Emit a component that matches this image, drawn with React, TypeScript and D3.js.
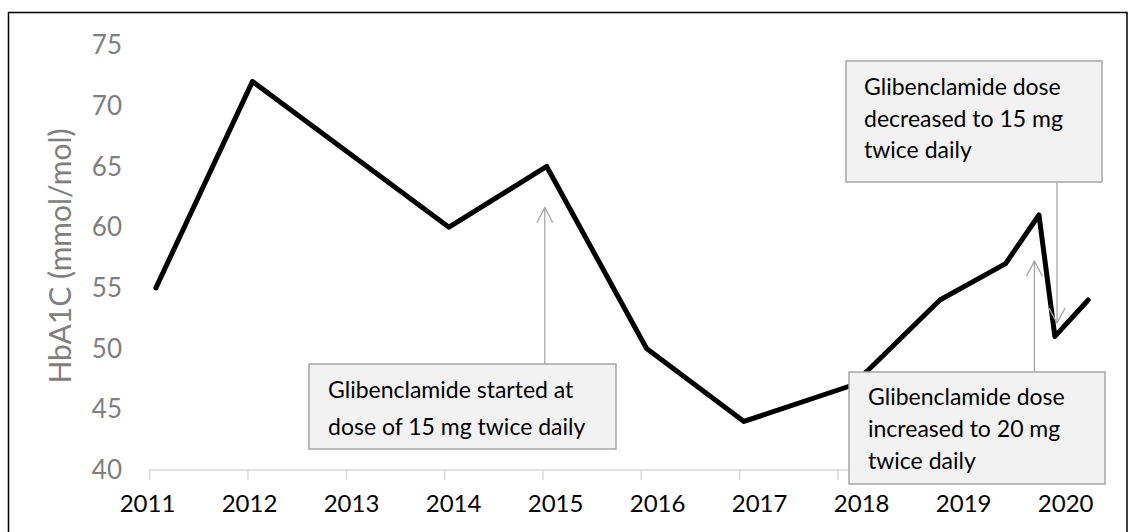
import React from "react";
import * as d3 from "d3";

// ---- data ----
const visitDates = [
  "2011-01-24", "2012-01-18", "2014-01-17", "2015-01-15", "2016-01-21", "2017-01-17",
  "2018-02-26", "2019-01-15", "2019-09-16", "2020-01-18", "2020-03-17", "2020-07-19",
];
const hba1cValues = [55, 72, 60, 65, 50, 44, 47, 54, 57, 61, 51, 54];
const yTickValues = [40, 45, 50, 55, 60, 65, 70, 75];
const yearLabels = ["2011", "2012", "2013", "2014", "2015", "2016", "2017", "2018", "2019", "2020"];
const yAxisTitle = "HbA1C (mmol/mol)";

const noteTexts = [
  ["Glibenclamide started at", "dose of 15 mg twice daily"],
  ["Glibenclamide dose", "decreased to 15 mg", "twice daily"],
  ["Glibenclamide dose", "increased to 20 mg", "twice daily"],
];
const noteArrowDates = ["2015-01-08", "2020-03-25", "2020-01-01"];
const noteArrowValues = [61.6, 52.1, 57.2];

// ---- layout ----
const W = 1134;
const H = 532;
const FONT = "Lato, Carlito, 'Open Sans', sans-serif";

const parse = d3.timeParse("%Y-%m-%d");

export default function App() {
  const x = d3
    .scaleTime()
    .domain([new Date(2011, 0, 1), new Date(2020, 0, 1)])
    .range([149.7, 1034.4]);
  const y = d3.scaleLinear().domain([40, 75]).range([470, 45]);
  const labelX = d3.scaleLinear().domain([0, 9]).range([147.5, 1065.7]);

  const pts = visitDates.map((d, i) => ({ date: parse(d) as Date, v: hba1cValues[i] }));
  const line = d3
    .line<{ date: Date; v: number }>()
    .x((d) => x(d.date))
    .y((d) => y(d.v));

  const axisStart = x(new Date(2011, 0, 1));
  const axisEnd = x(new Date(2020, 7, 1));
  const yearTicks = d3.range(2011, 2021).map((yr) => new Date(yr, 0, 1));

  const boxes = [
    { x: 309, y: 364, w: 307, h: 85, tx: 328, ty: 398, lh: 37, arrowFrom: "top" },
    { x: 846, y: 61, w: 256, h: 121, tx: 864, ty: 95, lh: 31.5, arrowFrom: "bottom" },
    { x: 849, y: 372, w: 256, h: 112, tx: 868, ty: 405, lh: 32, arrowFrom: "top" },
  ];

  const arrowGrey = "#a6a6a6";

  return (
    <svg
      width={W}
      height={H}
      style={{ position: "absolute", left: 0, top: 0, background: "#fff" }}
      fontFamily={FONT}
    >
      <rect x={0} y={0} width={W} height={H} fill="#fff" />
      {/* outer frame */}
      <rect x={8.5} y={12.5} width={1118.5} height={540} fill="none" stroke="#000" strokeWidth={1.5} />

      {/* y tick labels */}
      {yTickValues.map((t) => (
        <text
          key={t}
          x={122}
          y={y(t)}
          dy="0.35em"
          textAnchor="end"
          fontSize={26}
          fill="#7f7f7f"
        >
          {t}
        </text>
      ))}

      {/* y title */}
      <text
        transform={`translate(60, 256) rotate(-90)`}
        textAnchor="middle"
        dy="0.35em"
        fontSize={30}
        fill="#7f7f7f"
      >
        {yAxisTitle}
      </text>

      {/* x axis */}
      <line x1={axisStart} x2={axisEnd} y1={470} y2={470} stroke="#d9d9d9" strokeWidth={1.5} />
      {yearTicks.map((d, i) => (
        <line key={i} x1={x(d)} x2={x(d)} y1={470} y2={480} stroke="#d9d9d9" strokeWidth={1.5} />
      ))}
      {yearLabels.map((l, i) => (
        <text key={l} x={labelX(i)} y={512} textAnchor="middle" fontSize={24} fill="#000">
          {l}
        </text>
      ))}

      {/* data line */}
      <path
        d={line(pts) || ""}
        fill="none"
        stroke="#000"
        strokeWidth={5}
        strokeLinejoin="round"
        strokeLinecap="round"
      />

      {/* annotations */}
      {boxes.map((b, i) => {
        const ax = x(parse(noteArrowDates[i]) as Date);
        const ay = y(noteArrowValues[i]);
        const startY = b.arrowFrom === "top" ? b.y : b.y + b.h;
        const dir = ay < startY ? 1 : -1; // 1 => arrow points up
        return (
          <g key={i}>
            <line x1={ax} x2={ax} y1={startY} y2={ay} stroke={arrowGrey} strokeWidth={1.3} />
            <polyline
              points={`${ax - 8},${ay + dir * 15} ${ax},${ay} ${ax + 8},${ay + dir * 15}`}
              fill="none"
              stroke={arrowGrey}
              strokeWidth={1.3}
            />
            <rect x={b.x} y={b.y} width={b.w} height={b.h} fill="#f2f2f2" stroke={arrowGrey} strokeWidth={1.5} />
            {noteTexts[i].map((t, j) => (
              <text key={j} x={b.tx} y={b.ty + j * b.lh} fontSize={23} fill="#000">
                {t}
              </text>
            ))}
          </g>
        );
      })}
    </svg>
  );
}
